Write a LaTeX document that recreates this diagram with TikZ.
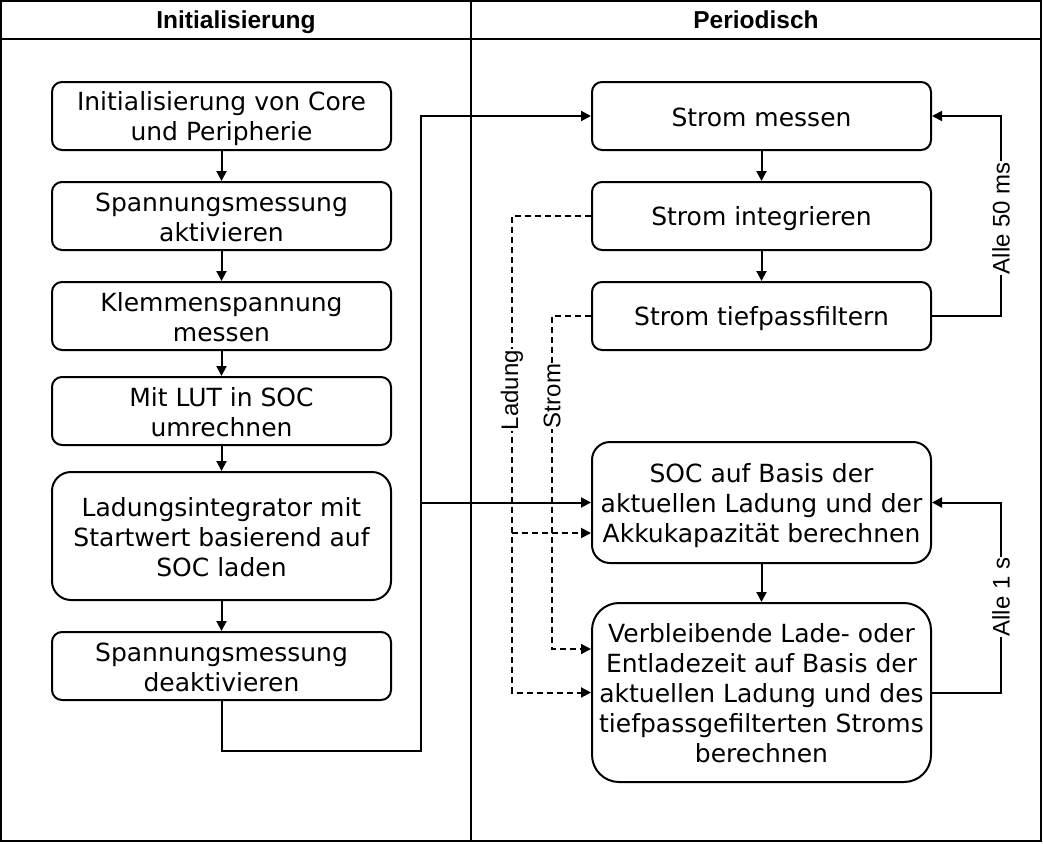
\documentclass[tikz,border=0pt]{standalone}
\usepackage{fontspec}
\setmainfont{DejaVu Sans}
\newfontfamily\arialfont{Liberation Sans}
\usetikzlibrary{arrows.meta}

% line box struts as in the drawing tool
\newcommand{\topstrut}{\rule{0pt}{25pt}}
\newcommand{\botstrut}{\rule[-5pt]{0pt}{5pt}}

\tikzset{
  stepbox/.style={draw, line width=2pt, rounded corners=10pt, minimum width=339pt,
    minimum height=68pt, inner sep=0pt, align=center, font=\fontsize{25}{30}\selectfont},
  flow/.style={line width=2pt, -{Triangle[length=10pt,width=10pt]}},
  dataflow/.style={flow, dash pattern=on 6pt off 4pt},
  edgelabel/.style={fill=white, rotate=90, inner sep=1pt, font=\arialfont\fontsize{24}{28}\selectfont},
  headline/.style={text height=18pt, text depth=5pt, font=\arialfont\bfseries\fontsize{24.5}{28}\selectfont},
}

\begin{document}
\begin{tikzpicture}[x=1pt, y=-1pt]
		\useasboundingbox (0,0) rectangle (1043,843);
		% frame with two lanes
		\draw[line width=2pt] (1,1) rectangle (1041,841);
		\draw[line width=2pt] (1,39) -- (1041,39);
		\draw[line width=2pt] (471,1) -- (471,841);
		\node[headline] (laneinit) at (236,22) {Initialisierung};
		\node[headline] (laneper) at (756,22) {Periodisch};

		\begin{scope}[every node/.style={stepbox}]
			\node (init) at (221.5,116) {\topstrut Initialisierung von Core\\und Peripherie\botstrut};
			\node (spakt) at (221.5,216) {\topstrut Spannungsmessung\\aktivieren\botstrut};
			\node (klemm) at (221.5,316) {\topstrut Klemmenspannung\\messen\botstrut};
			\node (lut) at (221.5,411) {\topstrut Mit LUT in SOC\\umrechnen\botstrut};
			\node[minimum height=128pt, rounded corners=19pt] (ladint) at (221.5,536) {\topstrut Ladungsintegrator mit\\Startwert basierend auf\\SOC laden\botstrut};
			\node (deakt) at (221.5,666) {\topstrut Spannungsmessung\\deaktivieren\botstrut};
		\end{scope}
		\begin{scope}[every node/.style={stepbox}]
			\node (messen) at (761.5,116) {\topstrut Strom messen\botstrut};
			\node (integ) at (761.5,216) {\topstrut Strom integrieren\botstrut};
			\node (tief) at (761.5,316) {\topstrut Strom tiefpassfiltern\botstrut};
			\node[minimum height=121pt, rounded corners=18pt] (soc) at (761.5,502.5) {\topstrut SOC auf Basis der\\aktuellen Ladung und der\\Akkukapazität berechnen\botstrut};
			\node[minimum height=179pt, rounded corners=27pt] (rest) at (761.5,692.5) {\topstrut Verbleibende Lade- oder\\Entladezeit auf Basis der\\aktuellen Ladung und des\\tiefpassgefilterten Stroms\\berechnen\botstrut};
		\end{scope}

		\begin{scope}[every edge/.style={draw, flow}]
			\path (init) edge (spakt);
			\path (spakt) edge (klemm);
			\path (klemm) edge (lut);
			\path (lut) edge (ladint);
			\path (ladint) edge (deakt);
			\path (messen) edge (integ);
			\path (integ) edge (tief);
			\path (soc) edge (rest);
		\end{scope}

		% from init to periodic part
		\coordinate (trunk) at (421,751);
		\draw[flow] (deakt.south) |- (trunk) |- (messen.west);
		\draw[flow] (trunk) |- (soc.west);

		% data lines
		\coordinate (ladbus) at (512,533);
		\coordinate (strombus) at (552,649);
		\draw[dataflow] (integ.west) -| (ladbus |- rest.west) -- (rest.west);
		\draw[dataflow] (ladbus) -- (ladbus -| soc.west);
		\draw[dataflow] (tief.west) -| (strombus) -- (strombus -| rest.west);
		\node[edgelabel] (ladlabel) at (512,390) {Ladung};
		\node[edgelabel] (stromlabel) at (552,396) {Strom};

		% timing loops
		\coordinate (loopfast) at (1001,218);
		\coordinate (loopslow) at (1001,597);
		\draw[flow] (tief.east) -| (loopfast) |- (messen.east);
		\draw[flow] (rest.east) -| (loopslow) |- (soc.east);
		\node[edgelabel] (fastlabel) at (loopfast) {Alle 50 ms};
		\node[edgelabel] (slowlabel) at (loopslow) {Alle 1 s};
	\end{tikzpicture}
\end{document}
